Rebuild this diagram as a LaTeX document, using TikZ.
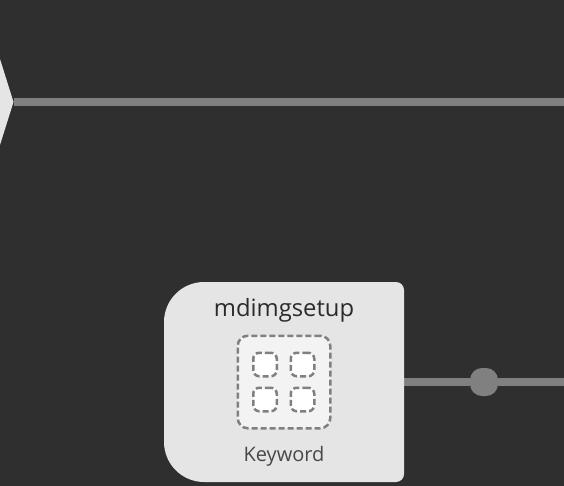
\documentclass[tikz,border=0pt]{standalone}
\usepackage{fontspec}
\setmainfont{Open Sans}
\definecolor{bgc}{HTML}{2F2F2F}
\definecolor{cardc}{HTML}{E5E5E5}
\definecolor{linec}{HTML}{808080}
\definecolor{panelc}{HTML}{F3F3F3}
\definecolor{titlec}{HTML}{2B2B2B}
\definecolor{subc}{HTML}{484848}
\tikzset{
  wire/.style={draw=linec,line width=8pt},
  cardfill/.style={fill=cardc,draw=none},
  dashbox/.style={draw=linec,line width=2.5pt,dash pattern=on 6pt off 3pt},
  bigbox/.style={dashbox,fill=panelc,rounded corners=10pt},
  smallbox/.style={dashbox,fill=white,rounded corners=6pt},
  dotnode/.style={rectangle,rounded corners=12pt,fill=linec,draw=none,inner sep=0pt,minimum size=28pt},
  anchorbox/.style={rectangle,draw=none,inner sep=0pt,minimum width=240pt,minimum height=200pt},
}
\begin{document}
\begin{tikzpicture}[x=1pt,y=-1pt]
\useasboundingbox (0,0) rectangle (564,486);
\fill[bgc] (0,0) rectangle (564,486);
\coordinate (topend) at (564,102);
\coordinate (midend) at (564,382);
\coordinate (tip) at (13.5,102);
\coordinate (cuta) at (0,59);
\coordinate (cutb) at (0,145);
\node[anchorbox] (card) at (284,382) {};
\node[dotnode] (dot) at (484,382) {};
% connectors
\draw[wire] (tip) -- (topend);
\draw[wire] (card.east) -- (dot) -- (midend);
% arrow-shaped node cut by the left edge
\fill[cardc] (cuta) -- (tip) -- (cutb) -- cycle;
% card
\path[cardfill] (204,282) -- (396,282) .. controls (400.4,282) and (404,285.6) .. (404,290)
  -- (404,474) .. controls (404,478.4) and (400.4,482) .. (396,482)
  -- (204,482) .. controls (182,482) and (164,464) .. (164,442)
  -- (164,322) .. controls (164,300) and (182,282) .. (204,282) -- cycle;
\node[text=titlec,font=\fontsize{23.8}{28}\selectfont,inner sep=0pt] (title) at (284,310) {mdimgsetup};
\node[text=subc,font=\fontsize{20}{24}\selectfont,inner sep=0pt] (kw) at (284,456) {Keyword};
\node[bigbox,minimum size=92.5pt,inner sep=0pt] (panel) at (284,382) {};
\node[smallbox,minimum size=23.5pt,inner sep=0pt] (a) at (265,364.5) {};
\node[smallbox,minimum size=23.5pt,inner sep=0pt] (b) at (302.5,364.5) {};
\node[smallbox,minimum size=23.5pt,inner sep=0pt] (c) at (265,399.5) {};
\node[smallbox,minimum size=23.5pt,inner sep=0pt] (d) at (302.5,399.5) {};
\end{tikzpicture}
\end{document}
